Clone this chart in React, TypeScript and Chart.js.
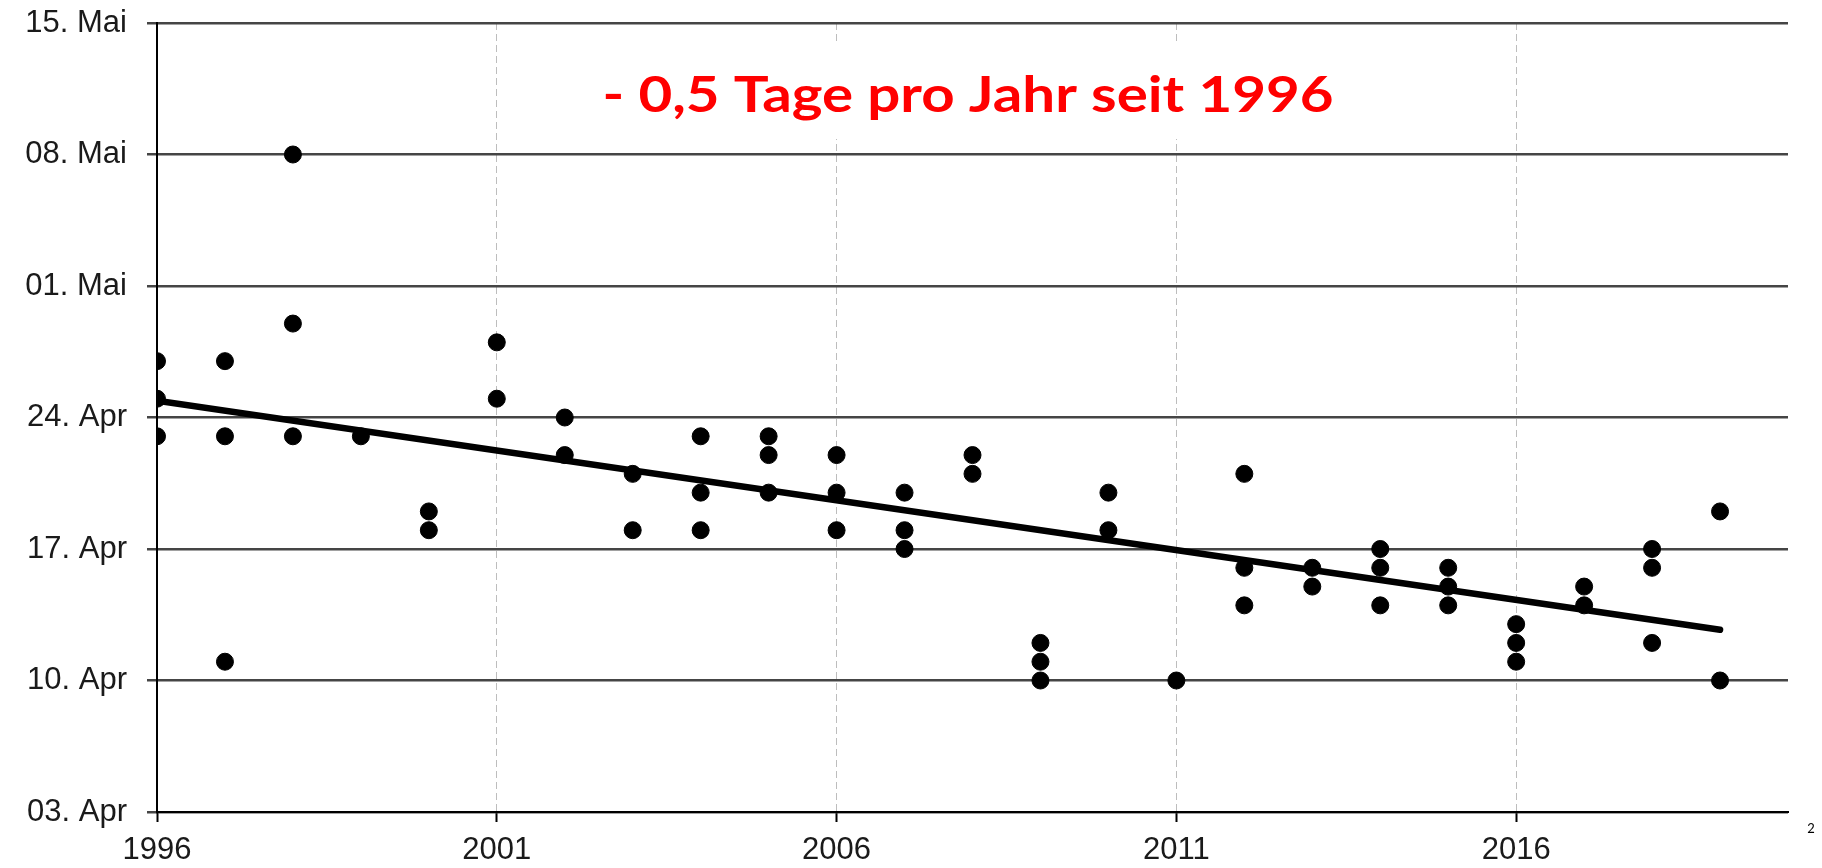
import React, { useEffect, useRef } from "react";
import { Chart, registerables } from "chart.js";

Chart.register(...registerables);

// ---- data ----
const years: number[] = [
  1996, 1997, 1998, 1999, 2000, 2001, 2002, 2003, 2004, 2005, 2006, 2007,
  2008, 2009, 2010, 2011, 2012, 2013, 2014, 2015, 2016, 2017, 2018, 2019,
];

const datesByYear: string[][] = [
  ["27. Apr", "25. Apr", "23. Apr"], // 1996
  ["27. Apr", "23. Apr", "11. Apr"], // 1997
  ["08. Mai", "29. Apr", "23. Apr"], // 1998
  ["23. Apr"], // 1999
  ["19. Apr", "18. Apr"], // 2000
  ["28. Apr", "25. Apr"], // 2001
  ["24. Apr", "22. Apr"], // 2002
  ["21. Apr", "18. Apr"], // 2003
  ["23. Apr", "20. Apr", "18. Apr"], // 2004
  ["23. Apr", "22. Apr", "20. Apr"], // 2005
  ["22. Apr", "20. Apr", "18. Apr"], // 2006
  ["20. Apr", "18. Apr", "17. Apr"], // 2007
  ["22. Apr", "21. Apr"], // 2008
  ["12. Apr", "11. Apr", "10. Apr"], // 2009
  ["20. Apr", "18. Apr"], // 2010
  ["10. Apr"], // 2011
  ["21. Apr", "16. Apr", "14. Apr"], // 2012
  ["16. Apr", "15. Apr"], // 2013
  ["17. Apr", "16. Apr", "14. Apr"], // 2014
  ["16. Apr", "15. Apr", "14. Apr"], // 2015
  ["13. Apr", "12. Apr", "11. Apr"], // 2016
  ["15. Apr", "14. Apr"], // 2017
  ["17. Apr", "16. Apr", "12. Apr"], // 2018
  ["19. Apr", "10. Apr"], // 2019
];

// trend line end points, day of April
const trendYears: number[] = [1996, 2019];
const trendAprilDays: number[] = [24.9, 12.7];

const yTickLabels: string[] = [
  "03. Apr",
  "10. Apr",
  "17. Apr",
  "24. Apr",
  "01. Mai",
  "08. Mai",
  "15. Mai",
];
const xTickYears: number[] = [1996, 2001, 2006, 2011, 2016];

const titleText = "- 0,5 Tage pro Jahr seit 1996";
const pageNumber = "2";

// days after 03. Apr
function toOffset(label: string): number {
  const [d, m] = label.split(". ");
  const day = parseFloat(d);
  return (m === "Mai" ? day + 30 : day) - 3;
}

const FONT = "'Liberation Sans', Arial, sans-serif";

export default function App() {
  const ref = useRef<HTMLCanvasElement | null>(null);

  useEffect(() => {
    if (!ref.current) return;
    const points: { x: number; y: number }[] = [];
    years.forEach((yr, i) => {
      datesByYear[i].forEach((lab) => points.push({ x: yr, y: toOffset(lab) }));
    });
    const trend = trendYears.map((yr, i) => ({ x: yr, y: trendAprilDays[i] - 3 }));

    const overlay = {
      id: "overlay",
      beforeDatasetsDraw(chart: any) {
        const ctx = chart.ctx as CanvasRenderingContext2D;
        ctx.save();
        ctx.fillStyle = "#ffffff";
        ctx.fillRect(590, 42, 755, 97);
        ctx.font = "700 50px Lato, 'Open Sans', sans-serif";
        ctx.fillStyle = "#ff0000";
        ctx.textBaseline = "alphabetic";
        ctx.textAlign = "left";
        const w = ctx.measureText(titleText).width;
        const target = 731;
        ctx.translate(968 - target / 2, 112);
        ctx.scale(target / w, 1);
        ctx.fillText(titleText, 0, 0);
        ctx.restore();
      },
      afterDraw(chart: any) {
        const ctx = chart.ctx as CanvasRenderingContext2D;
        ctx.save();
        ctx.font = "13px Lato, 'Open Sans', sans-serif";
        ctx.fillStyle = "#000";
        ctx.textAlign = "center";
        ctx.textBaseline = "alphabetic";
        ctx.fillText(pageNumber, 1811, 833);
        ctx.restore();
      },
    };

    const chart = new Chart(ref.current, {
      type: "scatter",
      data: {
        datasets: [
          {
            type: "line",
            data: trend,
            borderColor: "#000",
            borderWidth: 6.5,
            pointRadius: 0,
            fill: false,
            borderCapStyle: "round",
          } as any,
          {
            data: points,
            backgroundColor: "#000",
            borderColor: "#000",
            borderWidth: 1,
            pointRadius: 8.5,
            pointHoverRadius: 8.5,
          },
        ],
      },
      options: {
        responsive: false,
        animation: false,
        events: [],
        layout: { padding: { top: 23, right: 34, left: 0, bottom: 0 } },
        plugins: {
          legend: { display: false },
          tooltip: { enabled: false },
        },
        scales: {
          x: {
            type: "linear",
            min: 1996,
            max: 2020,
            afterBuildTicks: (s: any) => {
              s.ticks = xTickYears.map((v) => ({ value: v }));
            },
            afterFit: (s: any) => {
              s.height = 56;
              s.paddingLeft = 0;
              s.paddingRight = 0;
            },
            grid: {
              color: "#bdbdbd",
              lineWidth: 1,
              tickColor: "#000",
              tickWidth: 2,
              tickLength: 10,
              tickBorderDash: [],
            },
            border: { color: "#000", width: 2, dash: [7, 4] },
            ticks: {
              font: { family: FONT, size: 31 },
              color: "#1a1a1a",
              padding: 10,
              maxRotation: 0,
              callback: (v: any) => String(v),
            },
          },
          y: {
            min: 0,
            max: 42,
            afterBuildTicks: (s: any) => {
              s.ticks = yTickLabels.map((_, i) => ({ value: i * 7 }));
            },
            afterFit: (s: any) => {
              s.width = 157;
              s.paddingTop = 0;
              s.paddingBottom = 0;
            },
            grid: {
              color: "#454545",
              lineWidth: 2.5,
              tickColor: "#454545",
              tickWidth: 2.5,
              tickLength: 10,
            },
            border: { color: "#000", width: 2 },
            ticks: {
              font: { family: FONT, size: 31 },
              color: "#1a1a1a",
              padding: 20,
              callback: (v: any) => yTickLabels[Math.round(Number(v) / 7)] ?? "",
            },
          },
        },
      },
      plugins: [overlay],
    } as any);

    return () => chart.destroy();
  }, []);

  return (
    <div style={{ position: "absolute", left: 0, top: 0, width: 1822, height: 868, background: "#fff" }}>
      <canvas ref={ref} width={1822} height={868} style={{ display: "block" }} />
    </div>
  );
}
